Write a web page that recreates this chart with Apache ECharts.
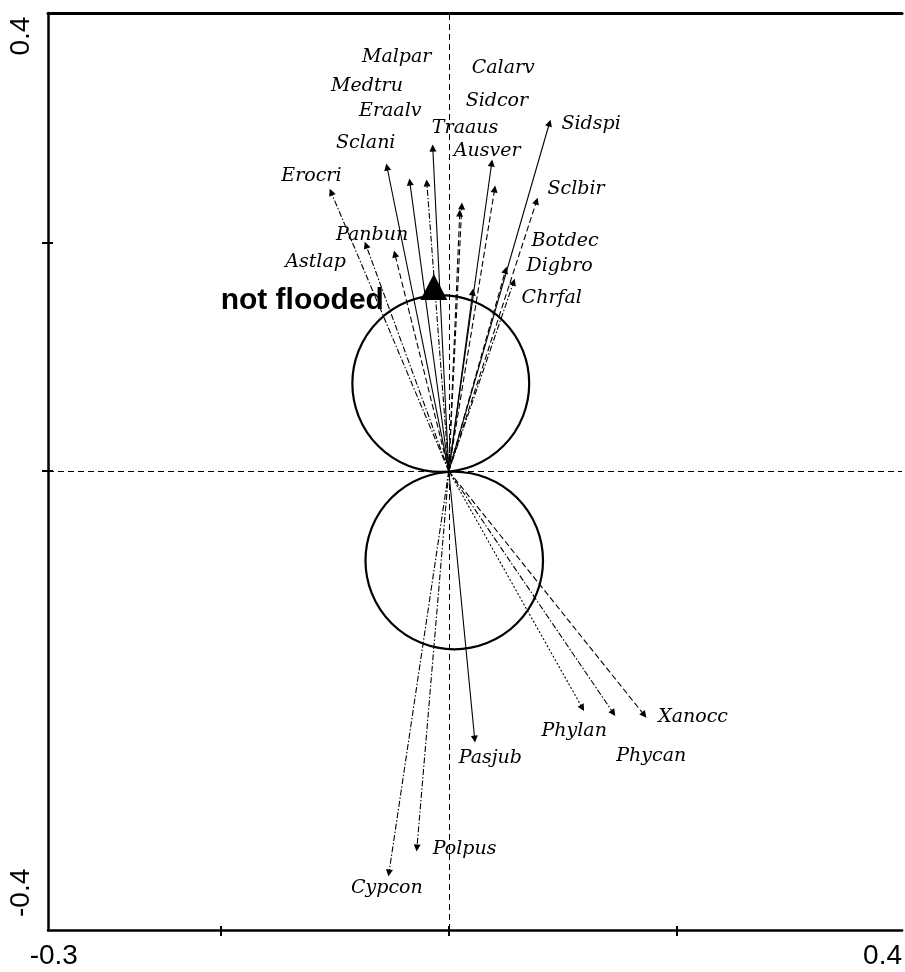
<!DOCTYPE html>
<html>
<head>
<meta charset="utf-8">
<script src="https://cdn.jsdelivr.net/npm/echarts@6/dist/echarts.min.js"></script>
<style>
  html, body { margin: 0; padding: 0; background: #fff; }
  #main { width: 905px; height: 972px; }
</style>
</head>
<body>
<div id="main"></div>
<script>
// species arrows (tips of the biplot arrows)
var species = ['Sidspi', 'Traaus', 'Ausver', 'Sclani', 'Erocri', 'Eraalv', 'Malpar', 'Sidcor',
  'Sclbir', 'Calarv', 'Medtru', 'Astlap', 'Panbun', 'Botdec', 'Digbro', 'Chrfal',
  'Cypcon', 'Polpus', 'Pasjub', 'Phylan', 'Phycan', 'Xanocc'];
var speciesX = [0.0882, -0.0140, 0.0376, -0.0541, -0.1031, -0.0341, -0.0192, 0.0402,
  0.0769, 0.0114, 0.0096, -0.0725, -0.0472, 0.0498, 0.0568, 0.0210,
  -0.0524, -0.0279, 0.0227, 0.1170, 0.1441, 0.1712];
var speciesY = [0.3053, 0.2833, 0.2702, 0.2667, 0.2447, 0.2535, 0.2526, 0.2474,
  0.2368, 0.2325, 0.2263, 0.1982, 0.1904, 0.1763, 0.1658, 0.1570,
  -0.3526, -0.3307, -0.2351, -0.2079, -0.2123, -0.2140];

// where each species name is written (left end of the text)
var labelX = [0.0987, -0.0148, 0.0044, -0.0987, -0.1467, -0.0786, -0.0760, 0.0148,
  0.0865, 0.0201, -0.1031, -0.1432, -0.0987, 0.0725, 0.0681, 0.0638,
  -0.0856, -0.0140, 0.0087, 0.0812, 0.1467, 0.1834];
var labelY = [0.3044, 0.3009, 0.2807, 0.2877, 0.2588, 0.3158, 0.3632, 0.3246,
  0.2474, 0.3535, 0.3377, 0.1833, 0.2070, 0.2018, 0.1798, 0.1518,
  -0.3658, -0.3316, -0.2518, -0.2281, -0.2500, -0.2158];

// environmental centroid
var envName = 'not flooded';
var envPoint = [-0.0131, 0.1614];
var envLabelAt = [-0.0568, 0.1491];

// Van Dobben circles
var circleX = [-0.0070, 0.0048];
var circleY = [0.0768, -0.0785];
var circleR = [0.0775, 0.0778];

// axes
var xMin = -0.351, xMax = 0.397;
var yMin = -0.4026, yMax = 0.4018;
var xTicks = [-0.2, 0, 0.2];
var yTicks = [0.2, 0];
var xLabelAt = [-0.3459, 0.3799];
var xLabelText = ['-0.3', '0.4'];
var yLabelAt = [0.3816, -0.370];
var yLabelText = ['0.4', '-0.4'];

var lineKind = {
  Sidspi: 'solid', Traaus: 'solid', Ausver: 'solid', Sclani: 'solid', Erocri: 'dashdot',
  Eraalv: 'solid', Malpar: 'dashdot', Sidcor: 'dashed', Sclbir: 'dashed', Calarv: 'dashed',
  Medtru: 'dashed', Astlap: 'dashdot', Panbun: 'dashed', Botdec: 'dashed', Digbro: 'dashdot',
  Chrfal: 'solid', Cypcon: 'dashdot', Polpus: 'dashdot', Pasjub: 'solid', Phylan: 'dotted',
  Phycan: 'dashdot', Xanocc: 'dashed'
};
var dashes = { solid: 'solid', dashed: [6, 3], dotted: [2, 2], dashdot: [6, 2, 1.5, 2] };

var chart = echarts.init(document.getElementById('main'));

var arrowData = species.map(function (name, i) {
  return {
    name: name,
    coords: [[0, 0], [speciesX[i], speciesY[i]]],
    lineStyle: { type: dashes[lineKind[name]] }
  };
});
var labelData = species.map(function (name, i) {
  return { name: name, value: [labelX[i], labelY[i]] };
});
var circleData = circleX.map(function (x, i) {
  return [x, circleY[i], circleR[i]];
});

var hidden = { show: false };

var option = {
  animation: false,
  backgroundColor: '#fff',
  grid: { left: 48, right: 0, top: 13, bottom: 42, containLabel: false },
  xAxis: [{
    type: 'value', min: xMin, max: xMax, position: 'bottom',
    axisLine: { show: true, onZero: false, lineStyle: { color: '#000', width: 2.5 } },
    axisTick: { show: true, customValues: xTicks, length: 6, lineStyle: { color: '#000', width: 2 } },
    axisLabel: {
      show: true, customValues: xLabelAt, margin: 12,
      color: '#000', fontFamily: 'Liberation Sans', fontSize: 28,
      formatter: function (v) { return v < 0 ? xLabelText[0] : xLabelText[1]; }
    },
    splitLine: hidden
  }, {
    type: 'value', min: xMin, max: xMax, position: 'top',
    axisLine: { show: true, onZero: false, lineStyle: { color: '#000', width: 3 } },
    axisTick: hidden, axisLabel: hidden, splitLine: hidden
  }, {
    type: 'value', min: xMin, max: xMax, position: 'bottom',
    axisLine: { show: false, onZero: false },
    axisTick: { show: true, inside: true, customValues: xTicks, length: 4, lineStyle: { color: '#000', width: 2 } },
    axisLabel: hidden, splitLine: hidden
  }],
  yAxis: [{
    type: 'value', min: yMin, max: yMax, position: 'left',
    axisLine: { show: true, onZero: false, lineStyle: { color: '#000', width: 2.5 } },
    axisTick: { show: true, customValues: yTicks, length: 6, lineStyle: { color: '#000', width: 2 } },
    axisLabel: {
      show: true, customValues: yLabelAt, rotate: 90, margin: 13,
      color: '#000', fontFamily: 'Liberation Sans', fontSize: 28,
      formatter: function (v) { return v > 0 ? yLabelText[0] : yLabelText[1]; }
    },
    splitLine: hidden
  }, {
    type: 'value', min: yMin, max: yMax, position: 'left',
    axisLine: { show: false, onZero: false },
    axisTick: { show: true, inside: true, customValues: yTicks, length: 5, lineStyle: { color: '#000', width: 2 } },
    axisLabel: hidden, splitLine: hidden
  }],
  series: [{
    type: 'custom',
    coordinateSystem: 'cartesian2d',
    data: circleData,
    silent: true,
    renderItem: function (params, api) {
      var c = api.coord([api.value(0), api.value(1)]);
      var s = api.size([api.value(2), api.value(2)]);
      return {
        type: 'circle',
        shape: { cx: c[0], cy: c[1], r: (s[0] + s[1]) / 2 },
        style: { fill: 'none', stroke: '#000', lineWidth: 2.2 }
      };
    }
  }, {
    type: 'lines',
    coordinateSystem: 'cartesian2d',
    data: arrowData,
    symbol: ['none', 'triangle'],
    symbolSize: 7,
    silent: true,
    lineStyle: { color: '#000', width: 1.1, opacity: 1 }
  }, {
    type: 'scatter',
    data: labelData,
    symbolSize: 0,
    silent: true,
    itemStyle: { opacity: 1 },
    label: {
      show: true, position: [0, 0], align: 'left', verticalAlign: 'middle',
      formatter: '{b}', color: '#000', opacity: 1,
      fontFamily: 'DejaVu Serif', fontStyle: 'italic', fontSize: 19
    },
    markLine: {
      silent: true, symbol: 'none', label: hidden,
      lineStyle: { color: '#000', width: 1, type: [6, 4], opacity: 1 },
      data: [{ xAxis: 0 }, { yAxis: 0 }]
    }
  }, {
    type: 'scatter',
    data: [{ name: envName, value: envPoint }],
    symbol: 'triangle',
    symbolSize: [27, 26],
    itemStyle: { color: '#000', opacity: 1 },
    silent: true,
    z: 5
  }, {
    type: 'scatter',
    data: [{ name: envName, value: envLabelAt }],
    symbolSize: 0,
    silent: true,
    itemStyle: { opacity: 1 },
    label: {
      show: true, position: [0, 0], align: 'right', verticalAlign: 'middle',
      formatter: '{b}', color: '#000', opacity: 1,
      fontFamily: 'Liberation Sans', fontWeight: 'bold', fontSize: 30
    }
  }]
};

chart.setOption(option);
</script>
</body>
</html>
